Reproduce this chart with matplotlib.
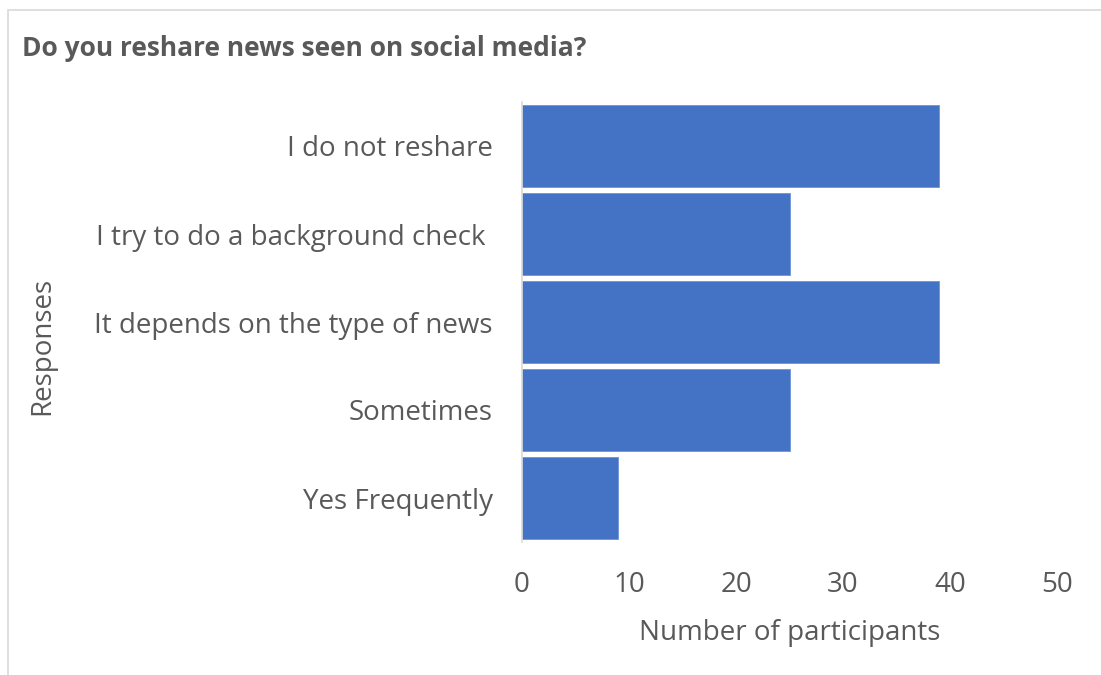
import matplotlib.pyplot as plt
from matplotlib.patches import Rectangle

# Survey responses, listed bottom to top
responses = ['Yes Frequently', 'Sometimes', 'It depends on the type of news',
             'I try to do a background check ', 'I do not reshare']
participants = [9, 25, 39, 25, 39]

plt.rcParams['font.family'] = ['Open Sans', 'DejaVu Sans']
text_color = '#595959'

fig = plt.figure(figsize=(11.01, 6.75), dpi=100)
ax = fig.add_axes([522 / 1101, 1 - 542 / 675, (1057 - 522) / 1101, 440 / 675])

ax.barh(responses, participants, height=0.93, color='#4472C4',
        edgecolor='#6E93D6', linewidth=0.6)

ax.set_xlim(0, 50)
ax.set_ylim(-0.5, 4.5)
ax.set_xticks([0, 10, 20, 30, 40, 50])

for side in ['top', 'right', 'bottom']:
    ax.spines[side].set_visible(False)
ax.spines['left'].set_color('#D9D9D9')
ax.spines['left'].set_linewidth(1.2)

ax.tick_params(axis='both', length=0, labelsize=20, labelcolor=text_color)
ax.tick_params(axis='x', pad=21)
ax.tick_params(axis='y', pad=21)

ax.set_xlabel('Number of participants', fontsize=20, color=text_color, labelpad=14)

fig.text(42 / 1101, 1 - 346 / 675, 'Responses', fontsize=20, color=text_color,
         rotation=90, ha='center', va='center')

fig.text(22 / 1101, 1 - 49 / 675, 'Do you reshare news seen on social media?',
         fontsize=19, fontweight='bold', color=text_color, va='center')

# Light frame around the chart area
fig.patches.append(Rectangle((8 / 1101, -0.1), 1.2, 1 - 10 / 675 + 0.1,
                             transform=fig.transFigure, fill=False,
                             edgecolor='#D9D9D9', linewidth=1.2))

fig.savefig('out.png', dpi=100, facecolor='white')
